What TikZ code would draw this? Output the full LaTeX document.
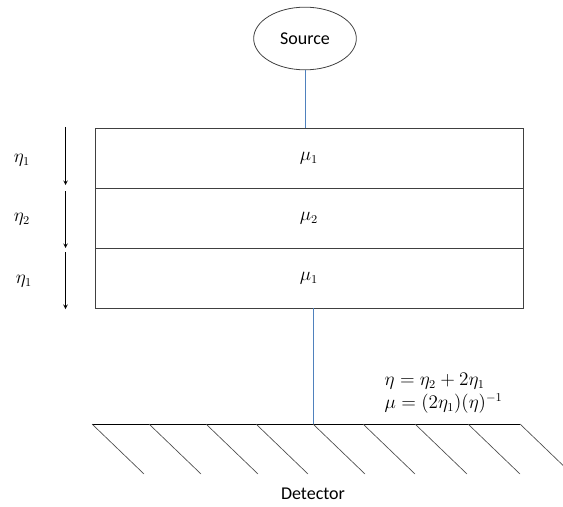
\documentclass[tikz,border=0pt]{standalone}
\usepackage{amsmath}
\usepackage{fontspec}
\setmainfont{Carlito}
\usetikzlibrary{shapes.geometric}
\tikzset{>=stealth}
\definecolor{beamblue}{RGB}{79,129,189}

\begin{document}
\begin{tikzpicture}[x=0.75pt, y=-0.75pt, font=\fontsize{13.5}{16}\selectfont,
    layer/.style={draw=black!75, line width=0.6pt, minimum width=321pt, minimum height=45pt, inner sep=0pt},
    beam/.style={beamblue, line width=0.6pt},
    hatch/.style={black!70, line width=0.5pt}]
    \useasboundingbox (0,0) rectangle (563,506);
    \node [ellipse, draw=black!75, line width=0.6pt, minimum width=77pt, minimum height=47pt] (src) at (305,38.5) {Source};
    % layers
    \node [layer] (L1) at (309,158) {$\mu_1$};
    \node [layer] (L2) at (309,218) {$\mu_2$};
    \node [layer] (L3) at (309,278) {$\mu_1$};
    \coordinate (det) at (313,424);
    \coordinate (detL) at (92,424);
    \coordinate (detR) at (520,424);
    \draw [beam] (src.south) -- (src.south |- L1.north);
    \draw [beam] (L3.south -| det) -- (det);
    % thicknesses
    \node (e1) at (22,160) {$\eta_1$};
    \node (e2) at (22,219) {$\eta_2$};
    \node (e3) at (24,281) {$\eta_1$};
    \draw [->, line width=0.5pt] (65.5,127) -- (65.5,185);
    \draw [->, line width=0.5pt] (65.5,191) -- (65.5,248);
    \draw [->, line width=0.5pt] (65.5,252) -- (65.5,309);
    % detector
    \draw [line width=0.7pt] (detL) -- (detR);
    \foreach \x in {92,149,206,256,313,363,415,468,520}
        \draw [hatch] (\x,424) -- ++(52,50);
    \node (dlab) at (313,494) {Detector};
    \node [anchor=west] (eq1) at (380,381) {$\eta = \eta_2 + 2\eta_1$};
    \node [anchor=west] (eq2) at (380,404) {$\mu = (2\eta_1)(\eta)^{-1}$};
\end{tikzpicture}
\end{document}
